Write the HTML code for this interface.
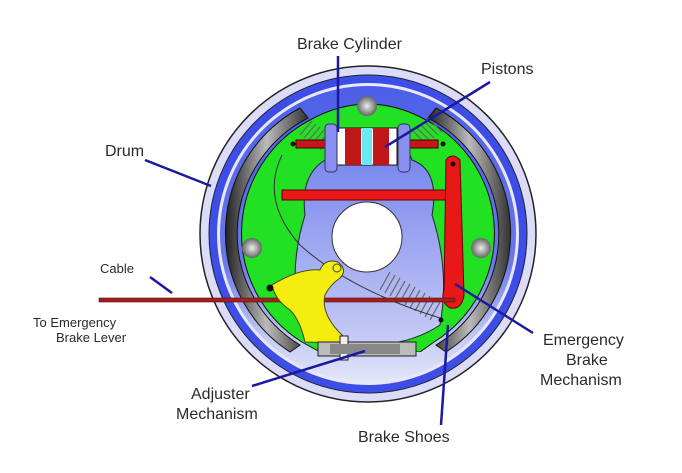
<!DOCTYPE html>
<html><head><meta charset="utf-8"><style>
html,body{margin:0;padding:0;background:#fff;}
svg{display:block;}
text{font-family:"Liberation Sans",sans-serif;fill:#2a2a2a;}
</style></head><body>
<svg width="682" height="473" viewBox="0 0 682 473" xmlns="http://www.w3.org/2000/svg">
<defs>
<linearGradient id="gl" x1="0" x2="1"><stop offset="0" stop-color="#222"/><stop offset="0.5" stop-color="#bbb"/><stop offset="1" stop-color="#333"/></linearGradient>
<linearGradient id="bp" x1="0" y1="0" x2="0" y2="1"><stop offset="0" stop-color="#4d5fe8"/><stop offset="0.6" stop-color="#6a78ea"/><stop offset="0.85" stop-color="#c4c9f4"/><stop offset="1" stop-color="#e4e6fa"/></linearGradient>
<linearGradient id="cp" x1="0" y1="0" x2="0" y2="1"><stop offset="0" stop-color="#7080ec"/><stop offset="1" stop-color="#c8ccf6"/></linearGradient>
<radialGradient id="pin"><stop offset="0" stop-color="#eee"/><stop offset="1" stop-color="#666"/></radialGradient>
<clipPath id="top"><rect x="0" y="0" width="682" height="352"/></clipPath>
</defs>
<!-- drum -->
<circle cx="368" cy="234" r="168" fill="#dcdcf8" stroke="#222" stroke-width="1.5"/>
<circle cx="368" cy="234" r="159" fill="#3c4ee6" stroke="#223" stroke-width="1"/>
<circle cx="368" cy="234" r="151" fill="#e8e8fa"/>
<circle cx="368" cy="234" r="148" fill="url(#bp)"/>
<!-- linings -->
<path d="M300,108 A142,142 0 0 0 290,352 L300,345 A130,130 0 0 1 308,118Z" fill="url(#gl)" stroke="#111"/>
<path d="M436,108 A142,142 0 0 1 446,352 L436,345 A130,130 0 0 0 428,118Z" fill="url(#gl)" stroke="#111"/>
<!-- green shoes -->
<g clip-path="url(#top)">
<path d="M310,120 A128,128 0 0 0 302,342 L320,352 L420,352 L434,342 A128,128 0 0 0 426,120 Q368,88 310,120Z" fill="#22e022" stroke="#111"/>
</g>
<!-- backing plate center -->
<path d="M325,160 Q330,140 368,138 Q406,140 412,160 Q440,170 432,215 Q450,270 440,325 Q410,345 368,345 Q320,345 300,320 Q288,270 305,215 Q300,175 325,160Z" fill="url(#cp)" stroke="#223" stroke-width="1"/>
<circle cx="367" cy="237" r="35" fill="#fff" stroke="#333"/>
<!-- pins -->
<circle cx="367" cy="106" r="10" fill="url(#pin)"/>
<circle cx="252" cy="248" r="10" fill="url(#pin)"/>
<circle cx="481" cy="248" r="10" fill="url(#pin)"/>
<!-- springs -->
<g stroke="#666" stroke-width="1.2">
<path d="M300,135 l12,-14 M304,138 l12,-14 M308,141 l12,-14 M312,144 l12,-14 M316,147 l12,-14 M320,150 l12,-14"/>
<path d="M412,130 l14,14 M416,127 l14,14 M420,124 l14,14 M424,121 l14,14 M428,118 l14,14"/>
<path d="M380,290 l10,-18 M385,293 l10,-18 M390,296 l10,-18 M395,299 l10,-18 M400,302 l10,-18 M405,305 l10,-18 M410,308 l10,-18 M415,311 l10,-18 M420,314 l10,-18 M425,317 l10,-18 M430,320 l10,-18"/>
</g>
<path d="M282,155 Q260,200 300,245 Q350,290 440,318" fill="none" stroke="#333" stroke-width="1"/>
<!-- cylinder -->
<rect x="296" y="140" width="142" height="8" fill="#c41818" stroke="#400"/>
<rect x="337" y="128" width="60" height="37" fill="#fff" stroke="#111"/>
<rect x="345" y="128" width="16" height="37" fill="#c01818"/>
<rect x="373" y="128" width="16" height="37" fill="#c01818"/>
<rect x="362" y="128" width="10" height="37" fill="#6ee8f0"/>
<rect x="325" y="124" width="12" height="48" rx="4" fill="#8a8ef0" stroke="#335"/>
<rect x="398" y="124" width="12" height="48" rx="4" fill="#8a8ef0" stroke="#335"/>
<circle cx="293" cy="144" r="2.5" fill="#111"/><circle cx="443" cy="144" r="2.5" fill="#111"/>
<!-- red bar & lever -->
<rect x="282" y="190" width="175" height="10" fill="#e81818" stroke="#600"/>
<path d="M446,160 Q452,152 460,160 L464,295 Q462,310 450,308 Q440,302 444,290Z" fill="#e81818" stroke="#600"/>
<circle cx="453" cy="164" r="2.5" fill="#111"/>
<!-- cable rod -->
<rect x="99" y="298" width="356" height="4" fill="#a02020" stroke="#601010" stroke-width="0.6"/>
<!-- yellow lever -->
<path d="M272,285 Q300,268 320,270 Q325,258 338,262 Q348,270 340,278 Q330,285 325,295 Q320,315 345,338 L340,343 L305,342 Q300,320 290,310 Q275,300 272,285Z" fill="#f4ee10" stroke="#443"/>
<circle cx="270" cy="288" r="3.5" fill="#111"/>
<circle cx="337" cy="268" r="4" fill="none" stroke="#443"/>
<!-- adjuster -->
<rect x="318" y="342" width="98" height="14" fill="#bbb" stroke="#222"/>
<rect x="340" y="336" width="8" height="24" fill="#eee" stroke="#222"/>
<rect x="330" y="344" width="70" height="10" fill="#888"/>
<circle cx="441" cy="320" r="2.5" fill="#111"/>
<!-- leaders -->
<g stroke="#1a1aa0" stroke-width="2.5" fill="none">
<line x1="145" y1="160" x2="211" y2="186"/>
<line x1="150" y1="277" x2="172" y2="293"/>
<line x1="338" y1="56" x2="338" y2="132"/>
<line x1="490" y1="82" x2="385" y2="147"/>
<line x1="455" y1="284" x2="533" y2="333"/>
<line x1="448" y1="325" x2="441" y2="425"/>
<line x1="252" y1="386" x2="365" y2="351"/>
</g>
<!-- labels -->
<text x="297" y="49" font-size="16">Brake Cylinder</text>
<text x="481" y="74" font-size="16">Pistons</text>
<text x="105" y="156" font-size="16">Drum</text>
<text x="100" y="273" font-size="13">Cable</text>
<text x="33" y="327" font-size="13">To Emergency</text>
<text x="56" y="342" font-size="13">Brake Lever</text>
<text x="191" y="399" font-size="16">Adjuster</text>
<text x="176" y="419" font-size="16">Mechanism</text>
<text x="543" y="345" font-size="16">Emergency</text>
<text x="566" y="365" font-size="16">Brake</text>
<text x="540" y="385" font-size="16">Mechanism</text>
<text x="358" y="442" font-size="16">Brake Shoes</text>
</svg>
</body></html>
